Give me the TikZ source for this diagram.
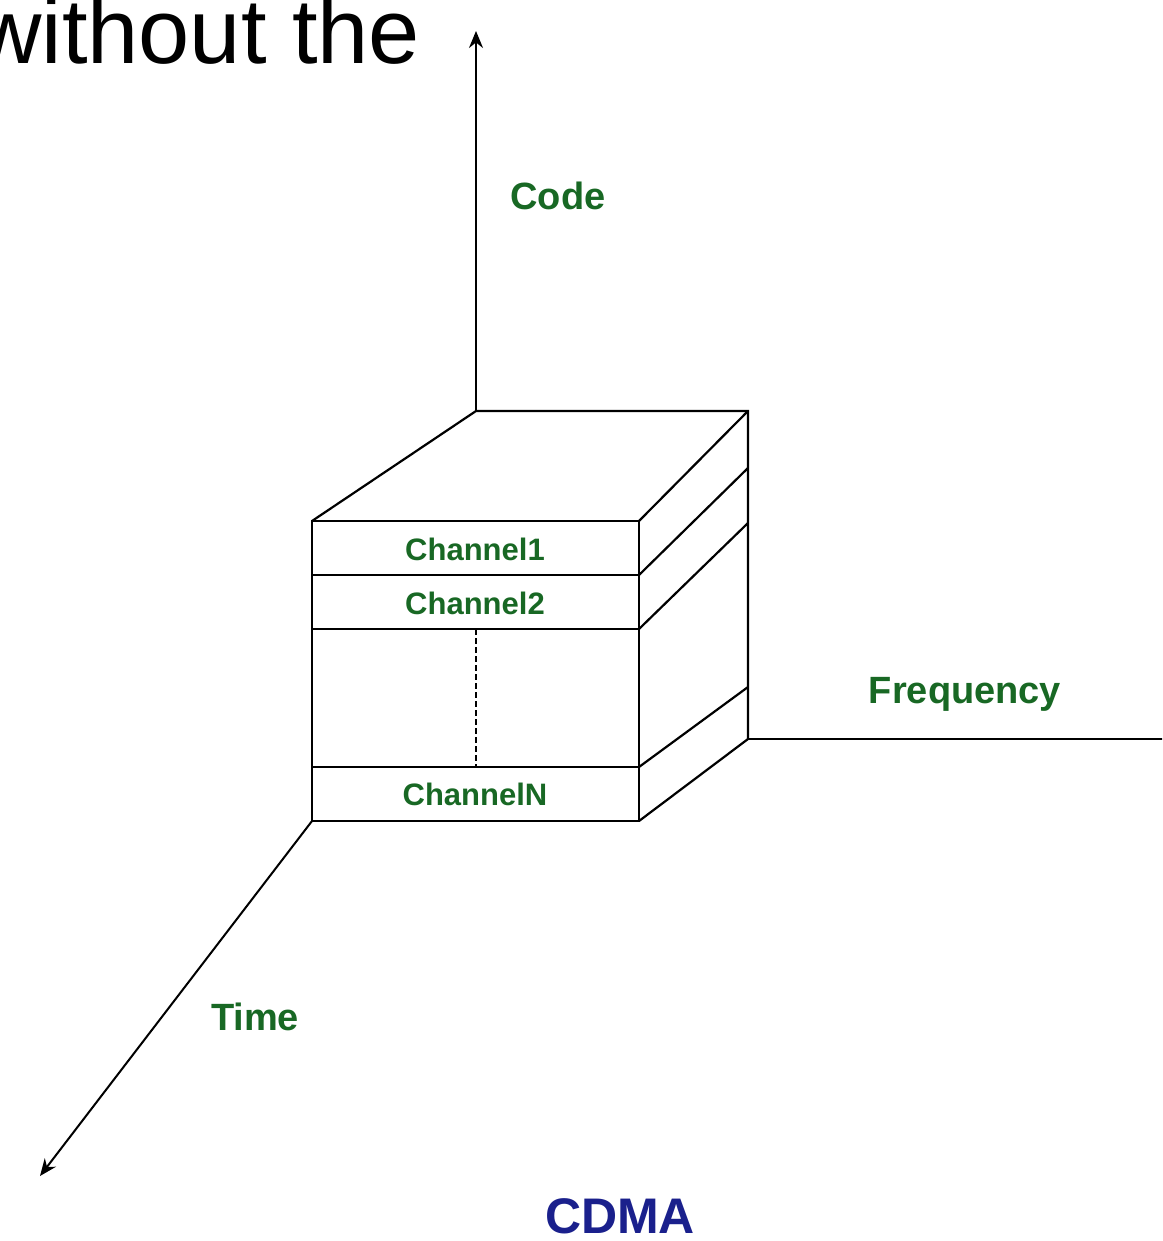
\documentclass[tikz,border=0pt]{standalone}
\usepackage{fontspec}
\setmainfont{Liberation Sans}
\usetikzlibrary{arrows.meta}
\definecolor{lblgreen}{RGB}{24,104,36}
\definecolor{lblblue}{RGB}{26,32,140}
\begin{document}
\begin{tikzpicture}[x=1pt,y=-1pt,
  edge/.style={line width=2.2pt,draw=black},
  axis/.style={line width=2pt,draw=black,-{Stealth[length=17pt,width=14pt]}},
  lbl/.style={text=lblgreen,font=\bfseries\fontsize{38}{40}\selectfont,inner sep=0pt,anchor=base},
  chlbl/.style={text=lblgreen,font=\bfseries\fontsize{31}{33}\selectfont,inner sep=0pt,anchor=base},
  ttl/.style={text=lblblue,font=\bfseries\fontsize{50}{52}\selectfont,inner sep=0pt,anchor=base,text depth=0pt}]
\useasboundingbox (0,0) rectangle (1162,1241);
\clip (0,0) rectangle (1162,1241);
% clipped caption fragment at top-left
\node[inner sep=0pt,anchor=base west,font=\fontsize{92}{96}\selectfont] (cap) at (-25,64) {without the};
% front face corners and divisions
\coordinate (f1l) at (312,521); \coordinate (f1r) at (639,521);
\coordinate (f2l) at (312,575); \coordinate (f2r) at (639,575);
\coordinate (f3l) at (312,629); \coordinate (f3r) at (639,629);
\coordinate (f4l) at (312,767); \coordinate (f4r) at (639,767);
\coordinate (f5l) at (312,821); \coordinate (f5r) at (639,821);
% back corners
\coordinate (btl) at (476,411); \coordinate (btr) at (748,411);
\coordinate (b2) at (748,468); \coordinate (b3) at (748,523);
\coordinate (b4) at (748,687); \coordinate (b5) at (748,739);
% axis ends
\coordinate (codeEnd) at (476,31);
\coordinate (freqEnd) at (1166,739);
\coordinate (timeEnd) at (40,1176);
% dashed divider
\coordinate (dtop) at (476,629); \coordinate (dbot) at (476,767);
% front face
\draw[edge] (f1l) rectangle (f5r);
\draw[edge] (f2l) -- (f2r);
\draw[edge] (f3l) -- (f3r);
\draw[edge] (f4l) -- (f4r);
\draw[edge,dash pattern=on 6pt off 3pt,line width=1.8pt] (dtop) -- (dbot);
% top face and right side
\draw[edge] (f1l) -- (btl) -- (btr) -- (b5);
\draw[edge] (f1r) -- (btr);
\draw[edge] (f2r) -- (b2);
\draw[edge] (f3r) -- (b3);
\draw[edge] (f4r) -- (b4);
\draw[edge] (f5r) -- (b5);
% axes
\draw[axis] (btl) -- (codeEnd);
\draw[edge] (b5) -- (freqEnd);
\draw[axis] (f5l) -- (timeEnd);
% labels
\node[lbl] (code) at (558,210) {Code};
\node[lbl] (freq) at (965,703) {Frequency};
\node[lbl] (time) at (255,1030) {Time};
\node[chlbl] (ch1) at (475,560) {Channel1};
\node[chlbl] (ch2) at (475,614) {Channel2};
\node[chlbl] (chn) at (475,805) {ChannelN};
\node[ttl] (cdma) at (620,1233) {CDMA};
\end{tikzpicture}
\end{document}
